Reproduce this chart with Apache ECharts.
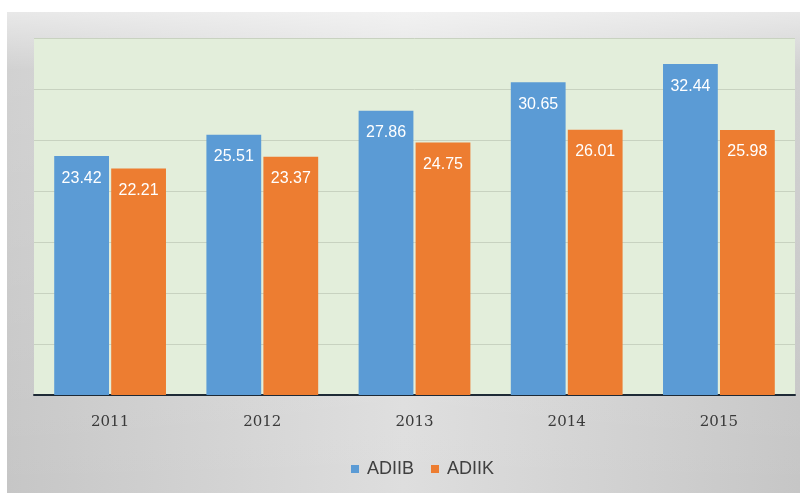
<!DOCTYPE html>
<html>
<head>
<meta charset="utf-8">
<script src="https://cdn.jsdelivr.net/npm/echarts@6/dist/echarts.min.js"></script>
<style>
  html, body { margin: 0; padding: 0; background: #ffffff; }
  #chart { width: 806px; height: 493px; }
</style>
</head>
<body>
<div id="chart"></div>
<script>
// Years on the category axis
var years = ['2011', '2012', '2013', '2014', '2015'];
// Series names and values
var seriesNames = ['ADIIB', 'ADIIK'];
var adiib = [23.42, 25.51, 27.86, 30.65, 32.44];
var adiik = [22.21, 23.37, 24.75, 26.01, 25.98];

var chart = echarts.init(document.getElementById('chart'), null, { renderer: 'canvas' });

var labelStyle = {
  show: true,
  position: 'insideTop',
  distance: 14,
  color: '#ffffff',
  fontSize: 16,
  fontFamily: 'Liberation Sans, Arial, sans-serif',
  formatter: function (p) { return p.value.toFixed(2); }
};

chart.setOption({
  backgroundColor: '#ffffff',
  animation: false,
  graphic: [
    {
      type: 'rect', z: -10, silent: true,
      shape: { x: 7, y: 12, width: 793, height: 481 },
      style: {
        fill: new echarts.graphic.LinearGradient(0, 0, 1, 0, [
          { offset: 0, color: '#c6c6c6' },
          { offset: 0.5, color: '#dedede' },
          { offset: 1, color: '#c6c6c6' }
        ])
      }
    },
    {
      type: 'rect', z: -9, silent: true,
      shape: { x: 7, y: 12, width: 793, height: 481 },
      style: {
        fill: new echarts.graphic.LinearGradient(0, 0, 0, 1, [
          { offset: 0, color: 'rgba(255,255,255,0.6)' },
          { offset: 0.12, color: 'rgba(255,255,255,0.2)' },
          { offset: 1, color: 'rgba(255,255,255,0)' }
        ])
      }
    }
  ],
  grid: {
    left: 34, right: 11, top: 38, bottom: 98,
    show: true, backgroundColor: '#e3eedb', borderWidth: 0
  },
  legend: {
    data: seriesNames,
    top: 455,
    left: 346,
    itemWidth: 8, itemHeight: 8, itemGap: 17,
    icon: 'rect',
    textStyle: { color: '#404040', fontSize: 18, padding: [0, 0, 0, 3], fontFamily: 'Liberation Sans, Arial, sans-serif' }
  },
  xAxis: {
    type: 'category',
    data: years,
    axisLine: { show: true, lineStyle: { color: '#1e2a36', width: 2 } },
    axisTick: { show: false },
    axisLabel: { color: '#3a3a3a', fontSize: 15, margin: 20, fontFamily: 'DejaVu Serif, serif' }
  },
  yAxis: {
    type: 'value',
    min: 0, max: 35, interval: 5,
    axisLabel: { show: false },
    axisLine: { show: false },
    axisTick: { show: false },
    splitLine: { show: true, lineStyle: { color: '#c8d2c0', width: 1 } }
  },
  series: [
    {
      name: seriesNames[0], type: 'bar', data: adiib,
      barWidth: '36%', barGap: '4%',
      itemStyle: { color: '#5b9bd5' },
      label: labelStyle
    },
    {
      name: seriesNames[1], type: 'bar', data: adiik,
      barWidth: '36%',
      itemStyle: { color: '#ed7d31' },
      label: labelStyle
    }
  ]
});
</script>
</body>
</html>
